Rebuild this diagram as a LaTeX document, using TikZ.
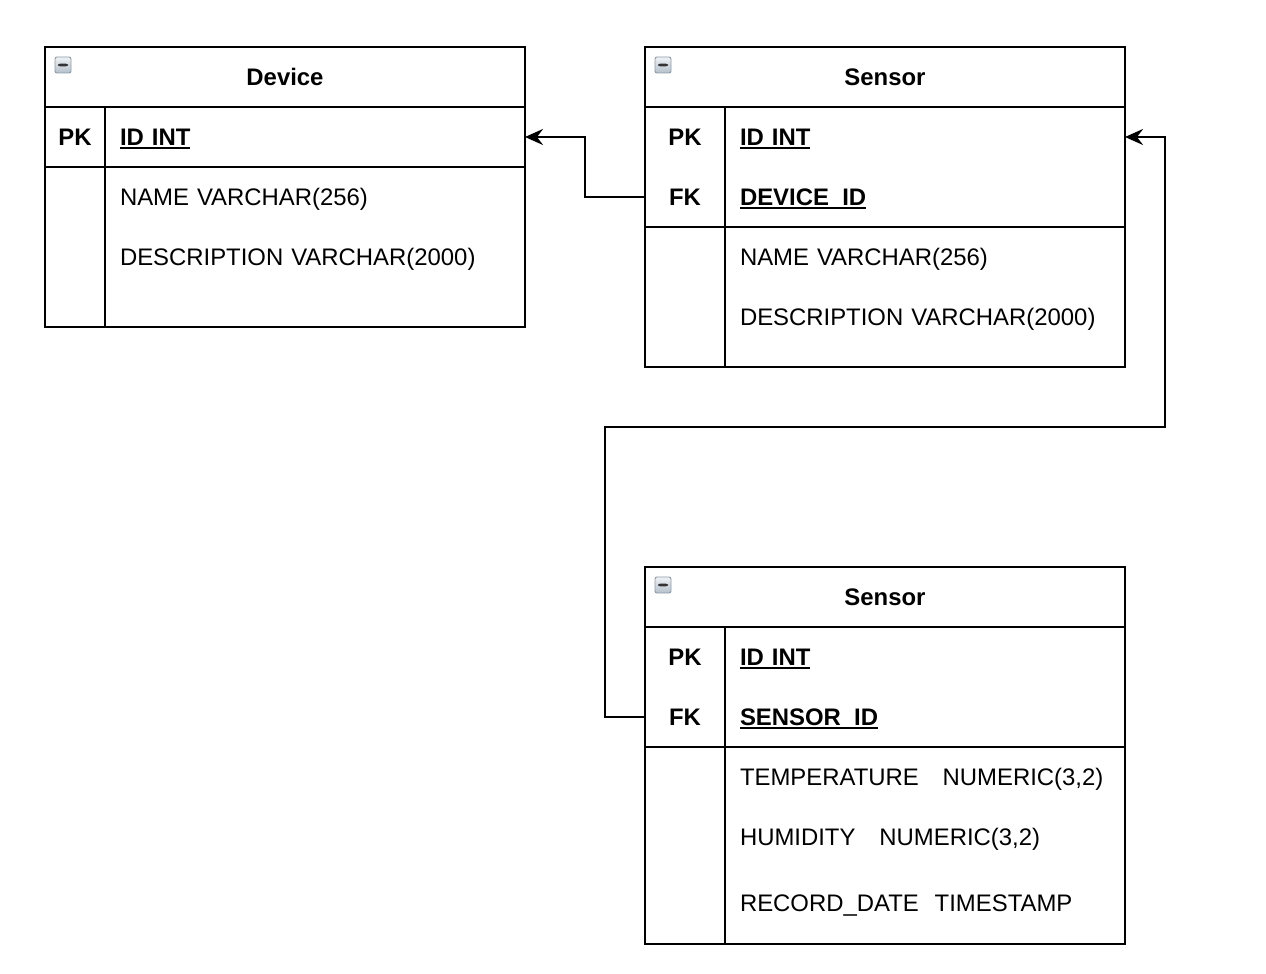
\documentclass[tikz,border=0pt]{standalone}
\usepackage{fontspec}
\setmainfont{Liberation Sans}
\usepackage{xcolor}
\usepackage{tikz}
\usetikzlibrary{positioning,arrows.meta}

\definecolor{minusedge}{HTML}{8C99A6}
\definecolor{minustop}{HTML}{EEF2F5}
\definecolor{minusbot}{HTML}{B4C0CB}

% underlined key name, rule kept out of the box depth
\newcommand{\keyname}[1]{\textbf{\setbox0\hbox{#1}\rlap{\rule[-3.5pt]{\wd0}{1.7pt}}\box0}}

\begin{document}
\begin{tikzpicture}[x=1pt,y=-1pt,
  every node/.style={font=\fontsize{23.9}{28}\selectfont,inner sep=0pt,outer sep=0pt,
    text height=17pt,text depth=0pt},
  tbox/.style={draw,line width=2.2pt,anchor=north west,minimum width=480pt},
  ttitle/.style={font=\fontsize{23.9}{28}\selectfont\bfseries},
  tminus/.style={draw=minusedge,line width=0.9pt,rounded corners=2pt,minimum size=16pt,
    text height=,text depth=,top color=minustop,bottom color=minusbot,
    path picture={\fill[black!80] ([xshift=-5pt,yshift=-1.3pt]path picture bounding box.center)
      rectangle ++(10pt,2.6pt);}},
  keycell/.style={minimum height=60pt,font=\fontsize{23.9}{28}\selectfont\bfseries},
  field/.style={anchor=west,minimum height=60pt,inner xsep=15pt,align=left},
  tline/.style={line width=2.2pt},
  fk/.style={line width=2.2pt,-{Stealth[length=18pt,width=16pt,inset=6pt]}}]

  \useasboundingbox (0,0) rectangle (1266,974);

  % Device
  \node[tbox,minimum height=280pt] (dev) at (45,47) {};
  \node[ttitle] (devtitle) at (285,77) {Device};
  \node[tminus] (devmin) at (63,65) {};
  \node[keycell,minimum width=60pt] (dpk) at (75,137) {PK};
  \node[field,text width=390pt] (did) at (105,137) {\keyname{ID INT}};
  \node[field,text width=390pt] (dname) at (105,197) {NAME VARCHAR(256)};
  \node[field,text width=390pt] (ddesc) at (105,257) {DESCRIPTION VARCHAR(2000)};
  \draw[tline] (45,107) -- (525,107) (45,167) -- (525,167) (105,107) -- (105,327);

  % Sensor
  \node[tbox,minimum height=320pt] (sen) at (645,47) {};
  \node[ttitle] (sentitle) at (885,77) {Sensor};
  \node[tminus] (senmin) at (663,65) {};
  \node[keycell,minimum width=80pt] (spk) at (685,137) {PK};
  \node[keycell,minimum width=80pt] (sfk) at (685,197) {FK};
  \node[field,text width=370pt] (sid) at (725,137) {\keyname{ID INT}};
  \node[field,text width=370pt] (sdev) at (725,197) {\keyname{DEVICE\_ID}};
  \node[field,text width=370pt] (sname) at (725,257) {NAME VARCHAR(256)};
  \node[field,text width=370pt] (sdesc) at (725,317) {DESCRIPTION VARCHAR(2000)};
  \draw[tline] (645,107) -- (1125,107) (645,227) -- (1125,227) (725,107) -- (725,367);

  % Sensor records
  \node[tbox,minimum height=377pt] (rec) at (645,567) {};
  \node[ttitle] (rectitle) at (885,597) {Sensor};
  \node[tminus] (recmin) at (663,585) {};
  \node[keycell,minimum width=80pt] (rpk) at (685,657) {PK};
  \node[keycell,minimum width=80pt] (rfk) at (685,717) {FK};
  \node[field,text width=370pt] (rid) at (725,657) {\keyname{ID INT}};
  \node[field,text width=370pt] (rsen) at (725,717) {\keyname{SENSOR\_ID}};
  \node[field,text width=370pt] (rtemp) at (725,777) {TEMPERATURE\ \ \ NUMERIC(3,2)};
  \node[field,text width=370pt] (rhum) at (725,837) {HUMIDITY\ \ \ NUMERIC(3,2)};
  \node[field,text width=370pt] (rdate) at (725,903) {RECORD\_DATE\ \ TIMESTAMP};
  \draw[tline] (645,627) -- (1125,627) (645,747) -- (1125,747) (725,627) -- (725,944);

  % foreign keys
  \draw[fk] (sfk.west) -- ++(-60,0) |- (did.east);
  \draw[fk] (rfk.west) -- ++(-40,0) -- ++(0,-290) -| ([xshift=40pt]sid.east) -- (sid.east);
\end{tikzpicture}
\end{document}
